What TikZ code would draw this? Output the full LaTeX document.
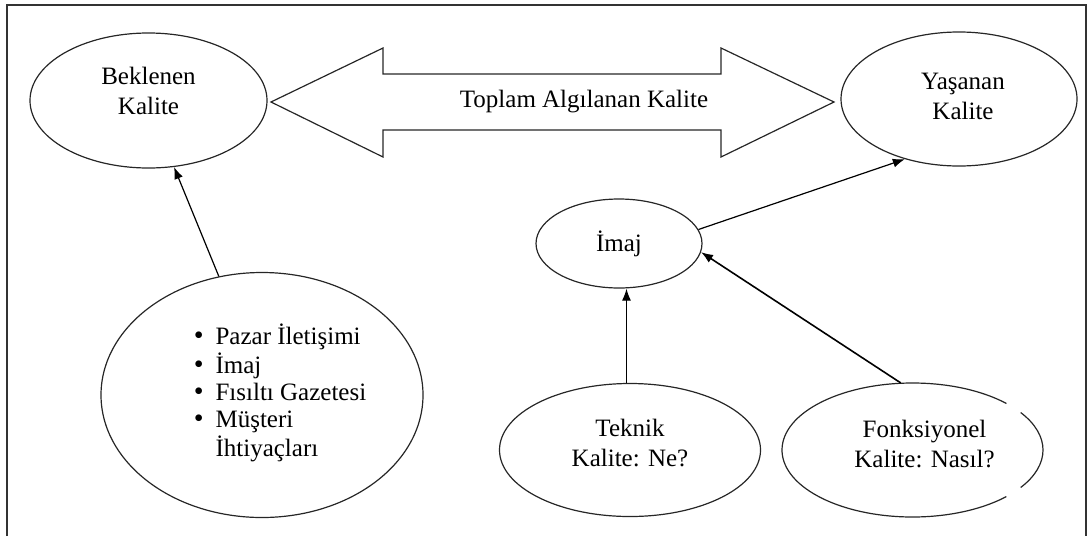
\documentclass[tikz,border=0pt]{standalone}
\usepackage{fontspec}
\setmainfont{Liberation Serif}
\usetikzlibrary{arrows.meta,calc,shapes.geometric}

\newcommand{\lstdot}{\fontsize{14}{13.5}\selectfont\textbullet}

\begin{document}
\begin{tikzpicture}[x=0.5pt,y=-0.5pt,
    oval/.style={ellipse,draw=black!85,line width=0.6pt,inner sep=0pt},
    txt/.style={align=center,font=\fontsize{12.5}{15}\selectfont},
    link/.style={line width=0.6pt,-{Latex[length=6pt,width=4.5pt]}}]

  \useasboundingbox (0,0) rectangle (1090,536);
  \draw[line width=1.1pt,black!80] (7,536) -- (7,5) -- (1086,5) -- (1086,536);

  \node (bek) [oval,minimum width=118.5pt,minimum height=67.5pt,
    label={[txt,yshift=5pt]center:Beklenen\\Kalite}] at (148.5,100.5) {};
  \node (yas) [oval,minimum width=118pt,minimum height=67pt,
    label={[txt,xshift=2pt,yshift=1.5pt]center:Yaşanan\\Kalite}] at (959,99) {};
  \node (imaj) [oval,minimum width=83pt,minimum height=44.5pt,
    label={[txt]center:İmaj}] at (619,243.5) {};
  \node (tek) [oval,minimum width=130.5pt,minimum height=66.5pt,
    label={[txt,yshift=3.5pt]center:Teknik\\Kalite: Ne?}] at (630,450) {};
  \node (fonk) [ellipse,inner sep=0pt,minimum width=130.5pt,minimum height=67pt,
    label={[txt,xshift=6pt,yshift=3pt]center:Fonksiyonel\\Kalite: Nasıl?}] at (912.5,450) {};
  \node (lst) [oval,minimum width=161pt,minimum height=122.5pt,
    label={[font=\fontsize{12.5}{13.5}\selectfont,xshift=9pt,yshift=0.5pt]center:%
      \begin{tabular}{@{}l@{\hspace{6pt}}l@{}}
        \lstdot & Pazar İletişimi\\
        \lstdot & İmaj\\
        \lstdot & Fısıltı Gazetesi\\
        \lstdot & Müşteri\\
                & İhtiyaçları
      \end{tabular}}] at (262,395) {};

  % broken outline on the right side
  \draw[black!85,line width=0.6pt] (fonk.center) ++(-34:65.25pt and 33.5pt)
    arc[start angle=-34,end angle=34,x radius=65.25pt,y radius=33.5pt];
  \draw[black!85,line width=0.6pt] (fonk.center) ++(44:65.25pt and 33.5pt)
    arc[start angle=44,end angle=316,x radius=65.25pt,y radius=33.5pt];

  \draw[black!85,line width=0.6pt] (271,102) -- (383,48) -- (383,74) -- (721,74)
    -- (721,48) -- (834,102) -- (721,157) -- (721,130) -- (383,130) -- (383,157) -- cycle;
  \node (total) [txt] at (584,102) {Toplam Algılanan Kalite};

  \draw[link] (lst.110) -- (bek.291);
  \draw[link] (imaj.10) -- (yas.228);
  \draw[link] (tek.93) -- (tek.93 |- imaj.south);
  \draw[link,line width=0.8pt] (fonk.100) -- (imaj.-6);
\end{tikzpicture}
\end{document}
